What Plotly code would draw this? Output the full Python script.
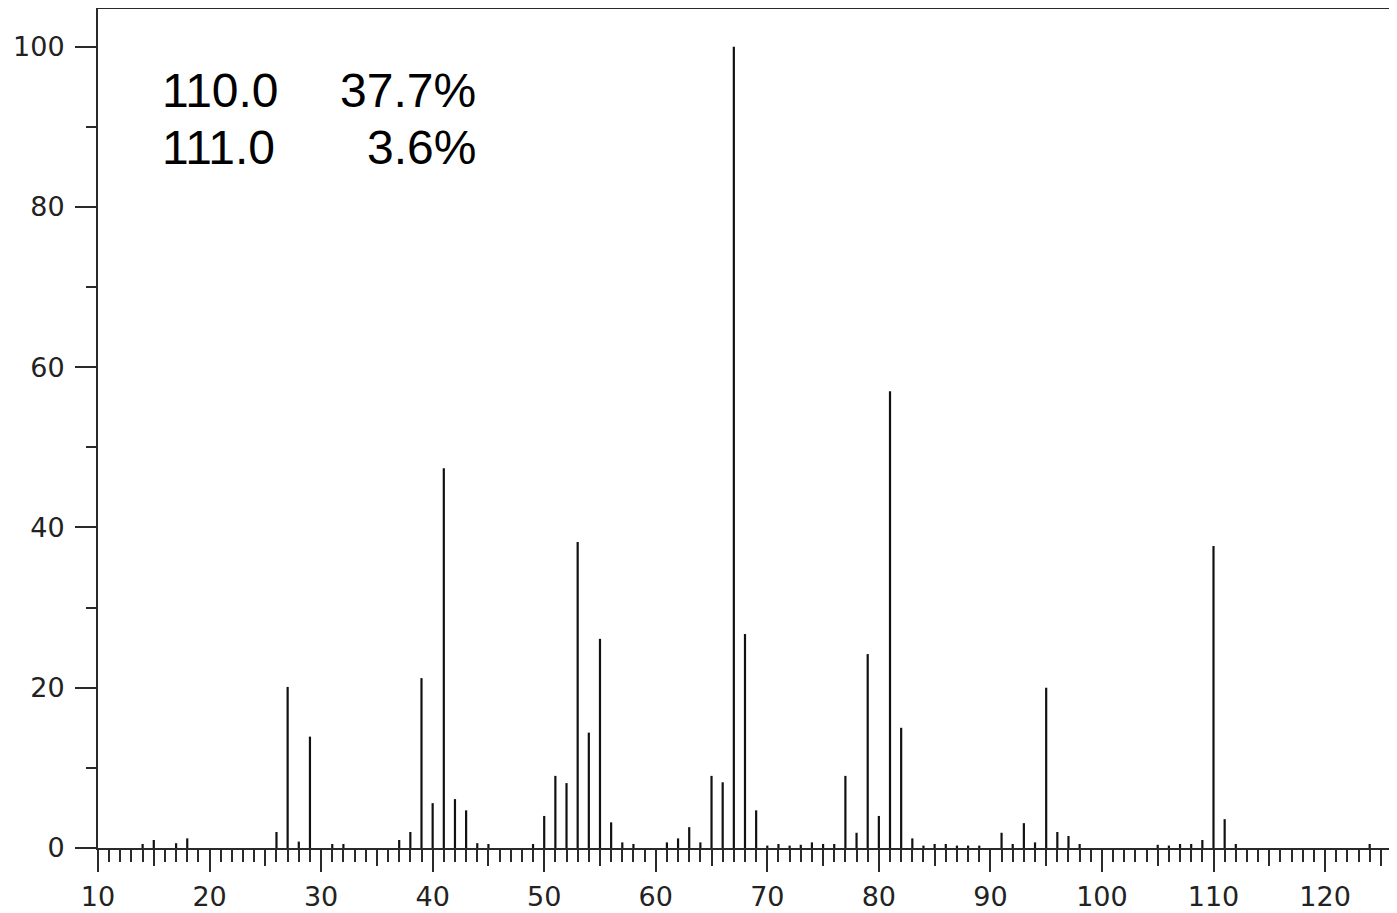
import plotly.graph_objects as go

# m/z values and relative intensities (%)
masses = [14, 15, 17, 18, 26, 27, 28, 29, 31, 32, 37, 38, 39, 40, 41, 42, 43, 44, 45,
          49, 50, 51, 52, 53, 54, 55, 56, 57, 58, 61, 62, 63, 64, 65, 66, 67, 68, 69,
          70, 71, 72, 73, 74, 75, 76, 77, 78, 79, 80, 81, 82, 83, 84, 85, 86, 87, 88,
          89, 91, 92, 93, 94, 95, 96, 97, 98, 105, 106, 107, 108, 109, 110, 111, 112, 124]
intensities = [0.5, 1.0, 0.6, 1.2, 2.0, 20.1, 0.8, 13.9, 0.5, 0.5, 1.0, 2.0, 21.2, 5.6, 47.4, 6.1, 4.7, 0.6, 0.5,
               0.5, 4.0, 9.0, 8.1, 38.2, 14.4, 26.1, 3.2, 0.7, 0.5, 0.7, 1.2, 2.6, 0.7, 9.0, 8.2, 100.0, 26.7, 4.7,
               0.3, 0.5, 0.3, 0.4, 0.7, 0.5, 0.5, 9.0, 1.9, 24.2, 4.0, 57.0, 15.0, 1.2, 0.3, 0.5, 0.5, 0.3, 0.3,
               0.3, 1.9, 0.5, 3.1, 0.7, 20.0, 2.0, 1.5, 0.5, 0.4, 0.3, 0.5, 0.5, 1.0, 37.7, 3.6, 0.5, 0.5]

# annotation table
ann_masses = ["110.0", "111.0"]
ann_pcts = ["37.7%", "3.6%"]

x_major_ticks = list(range(10, 130, 10))
y_major_ticks = list(range(0, 120, 20))

xs, ys = [], []
for m, v in zip(masses, intensities):
    xs += [m, m, None]
    ys += [0, v, None]

fig = go.Figure()
fig.add_trace(go.Scatter(x=xs, y=ys, mode="lines",
                         line=dict(color="#111111", width=2.2),
                         hoverinfo="skip", showlegend=False))
# invisible trace to anchor the 5-unit tick overlay axis
fig.add_trace(go.Scatter(x=[masses[0]], y=[0], xaxis="x2", mode="markers",
                         marker=dict(opacity=0), hoverinfo="skip", showlegend=False))

axis_color = "#2a2a2a"
tick_font = dict(family="Verdana, DejaVu Sans, sans-serif", size=27, color="#222222")
XR = [10, 126.45]

# page body has an 8px default margin; size the figure to fit the window
fig.update_layout(
    width=1389, height=905,
    margin=dict(l=90, r=0, t=1, b=65),
    paper_bgcolor="white", plot_bgcolor="white",
    xaxis=dict(range=XR, showgrid=False, zeroline=False,
               showline=True, mirror=True, linecolor=axis_color, linewidth=2,
               tickmode="array", tickvals=x_major_ticks,
               ticks="outside", ticklen=22, tickwidth=2, tickcolor=axis_color,
               tickfont=tick_font, ticklabelstandoff=2,
               minor=dict(dtick=1, tick0=10, ticks="outside", ticklen=12,
                          tickwidth=2, tickcolor=axis_color, showgrid=False)),
    xaxis2=dict(range=XR, overlaying="x", anchor="y", side="bottom",
                showgrid=False, zeroline=False, showline=False,
                tickmode="linear", tick0=10, dtick=5,
                ticks="outside", ticklen=17, tickwidth=2, tickcolor=axis_color,
                showticklabels=False),
    yaxis=dict(range=[0, 104.7], showgrid=False, zeroline=False,
               showline=True, linecolor=axis_color, linewidth=2,
               tickmode="array", tickvals=y_major_ticks,
               ticks="outside", ticklen=21, tickwidth=2, tickcolor=axis_color,
               tickfont=tick_font, ticklabelstandoff=5,
               minor=dict(dtick=10, tick0=0, ticks="outside", ticklen=10,
                          tickwidth=2, tickcolor=axis_color, showgrid=False)),
)

row_y = [0.903, 0.835]
ann_font = dict(family="Arial, Liberation Sans, sans-serif", size=48, color="black")
for i, (mz, pct) in enumerate(zip(ann_masses, ann_pcts)):
    fig.add_annotation(text=mz, xref="paper", yref="paper", x=0.0477, y=row_y[i],
                       xanchor="left", yanchor="middle", showarrow=False, font=ann_font)
    fig.add_annotation(text=pct, xref="paper", yref="paper", x=0.2925, y=row_y[i],
                       xanchor="right", yanchor="middle", showarrow=False, font=ann_font)

fig.write_html("out.html")
